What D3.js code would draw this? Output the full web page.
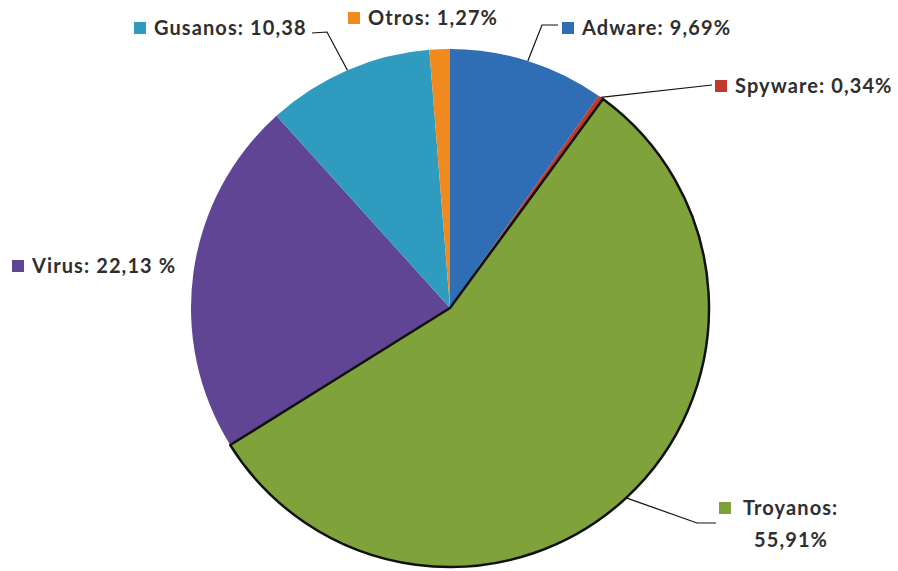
<!DOCTYPE html>
<html>
<head>
<meta charset="utf-8">
<script src="https://cdn.jsdelivr.net/npm/d3@7"></script>
<style>
  html, body { margin: 0; padding: 0; background: #fff; }
  svg { display: block; }
  text { font-family: Lato, "Open Sans", sans-serif; fill: #2e2e2e; font-weight: bold; letter-spacing: 1.1px; }
</style>
</head>
<body>
<svg id="chart" width="898" height="571"></svg>
<script>
// Malware distribution by type (percent)
const categories = ["Adware", "Spyware", "Troyanos", "Virus", "Gusanos", "Otros"];
const values = [9.69, 0.34, 55.91, 22.13, 10.38, 1.27];
const valueLabels = ["9,69%", "0,34%", "55,91%", "22,13 %", "10,38", "1,27%"];
const colors = ["#2f6db5", "#c0392d", "#7fa23a", "#5f4594", "#2e9bbf", "#f08a1f"];

const svg = d3.select("#chart");
const cx = 450, cy = 308, radius = 259;

const pie = d3.pie().sort(null).value(d => d.value);
const data = categories.map((c, i) => ({ name: c, value: values[i], label: valueLabels[i], color: colors[i] }));
const arcs = pie(data);

const arc = d3.arc().innerRadius(0).outerRadius(radius);
const rim = d3.arc().innerRadius(radius).outerRadius(radius);

const g = svg.append("g").attr("transform", `translate(${cx},${cy})`);

// Slices; the highlighted one (Troyanos) is drawn last with a dark outline
const order = arcs.slice().sort((a, b) => (a.data.name === "Troyanos") - (b.data.name === "Troyanos"));
g.selectAll("path.slice")
  .data(order)
  .join("path")
  .attr("class", "slice")
  .attr("d", arc)
  .attr("fill", d => d.data.color)
  .attr("stroke", d => d.data.name === "Troyanos" ? "#111" : "none")
  .attr("stroke-width", d => d.data.name === "Troyanos" ? 2.5 : 0)
  .attr("stroke-linejoin", "round");

// Label layout: legend-style square + text; optional leader line via elbow points
const layout = {
  Adware:   { x: 562, y: 35, elbow: [[542, 25], [558, 25]] },
  Spyware:  { x: 715, y: 93, elbow: [[712, 85]] },
  Troyanos: { x: 719, y: 515, elbow: [[697, 523], [716, 523]], wrap: true },
  Virus:    { x: 12,  y: 273, elbow: null },
  Gusanos:  { x: 134, y: 35, elbow: [[327, 32], [312, 33]] },
  Otros:    { x: 348, y: 25, elbow: null }
};

const labels = svg.append("g");
arcs.forEach(a => {
  const L = layout[a.data.name];
  if (L.elbow) {
    const [sx, sy] = rim.centroid(a);
    const pts = [[cx + sx, cy + sy]].concat(L.elbow);
    labels.append("path")
      .attr("d", d3.line()(pts))
      .attr("fill", "none")
      .attr("stroke", "#111")
      .attr("stroke-width", 1.2);
  }
  labels.append("rect")
    .attr("x", L.x).attr("y", L.y - 13)
    .attr("width", 12).attr("height", 12)
    .attr("fill", a.data.color);
  if (L.wrap) {
    labels.append("text")
      .attr("x", L.x + 24).attr("y", L.y)
      .attr("font-size", 20)
      .text(a.data.name + ":");
    labels.append("text")
      .attr("x", L.x + 35).attr("y", L.y + 32)
      .attr("font-size", 20)
      .text(a.data.label);
  } else {
    labels.append("text")
      .attr("x", L.x + 20).attr("y", L.y)
      .attr("font-size", 20)
      .text(a.data.name + ": " + a.data.label);
  }
});
</script>
</body>
</html>
